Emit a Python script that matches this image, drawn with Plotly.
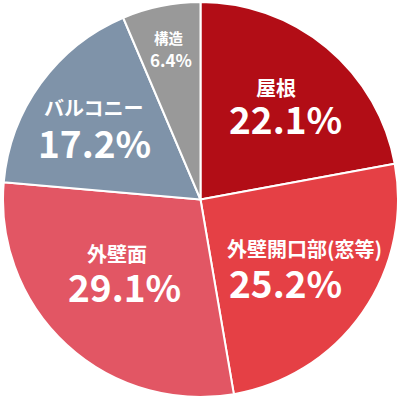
import math
import plotly.graph_objects as go

labels = ["屋根", "外壁開口部(窓等)", "外壁面", "バルコニー", "構造"]
values = [22.1, 25.2, 29.1, 17.2, 6.4]
colors = ["#B20D16", "#E54045", "#E25664", "#7F93A9", "#999999"]

# label styling / placement (not data)
label_radius = [0.637, 0.583, 0.537, 0.658, 0.778]
angle_offset = [0, 0, 6, -1, 0]
line_gap = [30, 33, 33, 35, 22]
line_dx = [-5, 9.5, -3.5, -0.5, -1]
label_size = [20, 20, 20, 20, 14.5]
pct_size = [37, 37, 37, 37, 17]

W = H = 400
cx, cy, R = 200.5, 199.5, 197.5

fig = go.Figure(go.Pie(
    labels=labels, values=values, sort=False, direction="clockwise", rotation=0,
    marker=dict(colors=colors, line=dict(color="white", width=2)),
    textinfo="none", hoverinfo="skip", showlegend=False,
    domain=dict(x=[(cx - R) / W, (cx + R) / W], y=[(H - cy - R) / H, (H - cy + R) / H]),
))

total = sum(values)
cum = 0
anns = []
for i, (lab, v) in enumerate(zip(labels, values)):
    mid = math.radians((cum + v / 2) / total * 360 + angle_offset[i])
    cum += v
    px = cx + label_radius[i] * R * math.sin(mid)
    py = cy - label_radius[i] * R * math.cos(mid)
    g = line_gap[i] / 2
    anns.append(dict(x=(px + line_dx[i]) / W, y=1 - (py - g) / H, xref="paper", yref="paper",
                     text=lab, showarrow=False,
                     font=dict(family="Noto Sans CJK JP", size=label_size[i], color="white", weight="bold"),
                     xanchor="center", yanchor="middle"))
    anns.append(dict(x=(px - line_dx[i]) / W, y=1 - (py + g) / H, xref="paper", yref="paper",
                     text=f"{v}%", showarrow=False,
                     font=dict(family="Noto Sans CJK JP", size=pct_size[i], color="white", weight="bold"),
                     xanchor="center", yanchor="middle"))

fig.update_layout(width=W, height=H, margin=dict(l=0, r=0, t=0, b=0),
                  paper_bgcolor="white", plot_bgcolor="white", annotations=anns)
fig.write_html("out.html")
